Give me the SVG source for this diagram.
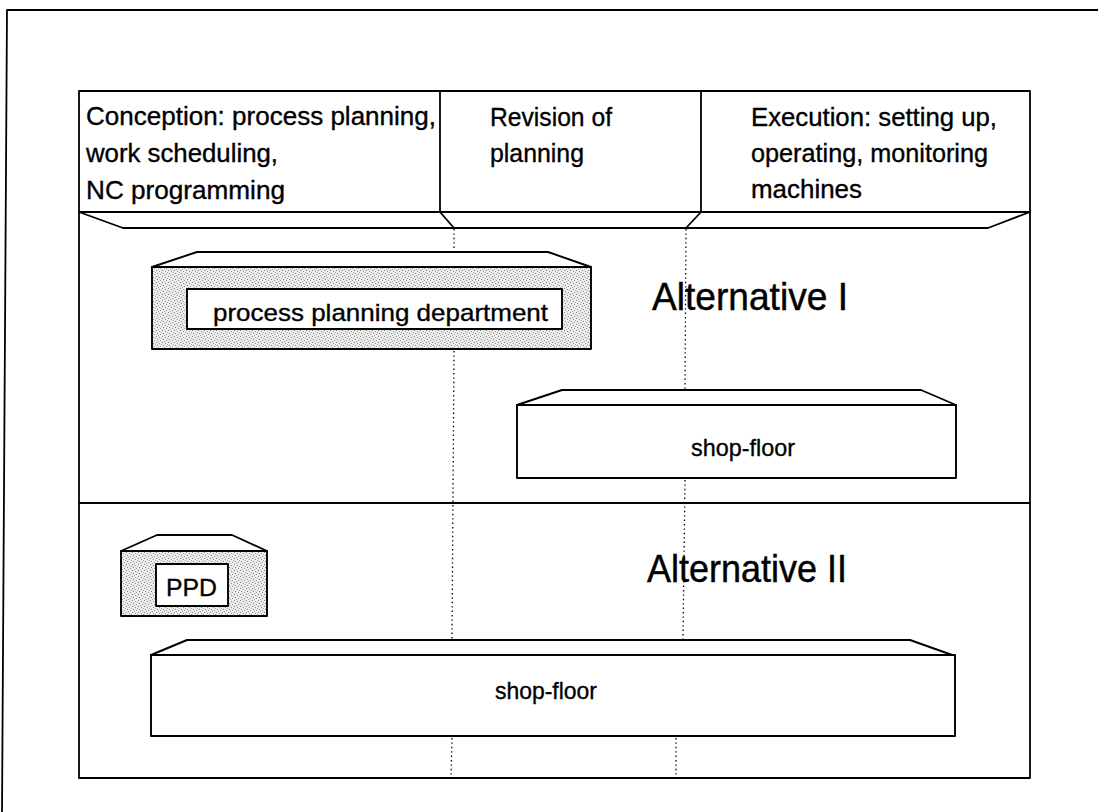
<svg xmlns="http://www.w3.org/2000/svg" width="1098" height="812" viewBox="0 0 1098 812">
  <style>
    .ln { fill: none; stroke: #000; stroke-width: 1.8; stroke-linejoin: round; }
    .guide { fill: none; stroke: #000; stroke-width: 1.3; stroke-dasharray: 1.4 3; }
    .box { fill: #fff; stroke: #000; stroke-width: 1.9; stroke-linejoin: round; }
    .shaded { fill: url(#stipple); stroke: #000; stroke-width: 1.9; stroke-linejoin: round; }
    .t { font-family: "Liberation Sans", Arial, sans-serif; fill: #000; stroke: #000; stroke-width: 0.35; }
    .head { font-size: 25.5px; }
    .alt { font-size: 38.5px; stroke-width: 0.45; }
    .lbl { font-size: 24.5px; }
  </style>
  <defs>
    <!-- grainy light-grey screen used for the planning department blocks -->
    <pattern id="stipple" width="6" height="6" patternUnits="userSpaceOnUse">
      <rect width="6" height="6" fill="#ececec"/>
      <rect x="0" y="0" width="1" height="1" fill="#808080"/>
      <rect x="3" y="1" width="1" height="1" fill="#909090"/>
      <rect x="1" y="3" width="1" height="1" fill="#808080"/>
      <rect x="4" y="4" width="1" height="1" fill="#999"/>
      <rect x="5" y="2" width="1" height="1" fill="#aaa"/>
      <rect x="2" y="5" width="1" height="1" fill="#aaa"/>
    </pattern>
  </defs>

  <rect width="1098" height="812" fill="#fff"/>

  <!-- outer page frame (open to the right and bottom) -->
  <g id="page-frame">
    <path class="ln" d="M1098 10 L7 10 L2 812"/>
  </g>

  <!-- main table frame with phase header -->
  <g id="table">
    <rect class="ln" x="79" y="91" width="951" height="687"/>
    <line class="ln" x1="79" y1="212" x2="1030" y2="212"/>
    <line class="ln" x1="440" y1="91" x2="440" y2="212"/>
    <line class="ln" x1="701" y1="91" x2="701" y2="212"/>
    <!-- bevelled underside of the header -->
    <path class="ln" d="M79 212 L123 228 L988 228 L1030 212"/>
    <path class="ln" d="M440 212 L454 228"/>
    <path class="ln" d="M701 212 L686 228"/>
    <!-- separator between the two alternatives -->
    <line class="ln" x1="79" y1="503" x2="1030" y2="503"/>
  </g>

  <g id="phase-conception">
    <text class="t head" x="86" y="125" textLength="350" lengthAdjust="spacingAndGlyphs">Conception: process planning,</text>
    <text class="t head" x="86" y="162" textLength="192" lengthAdjust="spacingAndGlyphs">work scheduling,</text>
    <text class="t head" x="86" y="199" textLength="199" lengthAdjust="spacingAndGlyphs">NC programming</text>
  </g>
  <g id="phase-revision">
    <text class="t head" x="490" y="126" textLength="122" lengthAdjust="spacingAndGlyphs">Revision of</text>
    <text class="t head" x="490" y="162" textLength="94" lengthAdjust="spacingAndGlyphs">planning</text>
  </g>
  <g id="phase-execution">
    <text class="t head" x="751" y="126" textLength="246" lengthAdjust="spacingAndGlyphs">Execution: setting up,</text>
    <text class="t head" x="751" y="162" textLength="237" lengthAdjust="spacingAndGlyphs">operating, monitoring</text>
    <text class="t head" x="751" y="198" textLength="111" lengthAdjust="spacingAndGlyphs">machines</text>
  </g>

  <!-- dotted phase boundaries running down through both alternatives -->
  <g id="connectors">
    <line class="guide" x1="454" y1="229" x2="454" y2="251"/>
    <line class="guide" x1="454" y1="351" x2="452" y2="639"/>
    <line class="guide" x1="452" y1="738" x2="451" y2="778"/>
    <line class="guide" x1="686" y1="229" x2="685" y2="389"/>
    <line class="guide" x1="685" y1="480" x2="683" y2="639"/>
    <line class="guide" x1="676" y1="738" x2="676" y2="778"/>
  </g>

  <text class="t alt" x="652" y="310" textLength="196" lengthAdjust="spacingAndGlyphs">Alternative I</text>
  <text class="t alt" x="647" y="582" textLength="200" lengthAdjust="spacingAndGlyphs">Alternative II</text>

  <!-- Alternative I -->
  <g id="ppd-large">
    <path class="box" d="M152 267 L197 252 L548 252 L591 267 Z"/>
    <rect class="shaded" x="152" y="267" width="439" height="82"/>
    <rect class="box" x="187" y="289" width="375" height="40"/>
    <text class="t lbl" x="213" y="321" textLength="335" lengthAdjust="spacingAndGlyphs">process planning department</text>
  </g>

  <g id="shop-floor-1">
    <path class="box" d="M517 405 L562 390 L921 390 L956 405 Z"/>
    <rect class="box" x="517" y="405" width="439" height="73"/>
    <text class="t lbl" x="691" y="456" textLength="104" lengthAdjust="spacingAndGlyphs">shop-floor</text>
  </g>

  <!-- Alternative II -->
  <g id="ppd-small">
    <path class="box" d="M121 551 L157 535 L232 535 L267 551 Z"/>
    <rect class="shaded" x="121" y="551" width="146" height="65"/>
    <rect class="box" x="156" y="564" width="72" height="42"/>
    <text class="t lbl" x="166" y="596" textLength="51" lengthAdjust="spacingAndGlyphs">PPD</text>
  </g>

  <g id="shop-floor-2">
    <path class="box" d="M151 655 L187 640 L910 640 L955 656 Z"/>
    <rect class="box" x="151" y="655" width="804" height="81"/>
    <text class="t lbl" x="495" y="699" textLength="102" lengthAdjust="spacingAndGlyphs">shop-floor</text>
  </g>
</svg>
